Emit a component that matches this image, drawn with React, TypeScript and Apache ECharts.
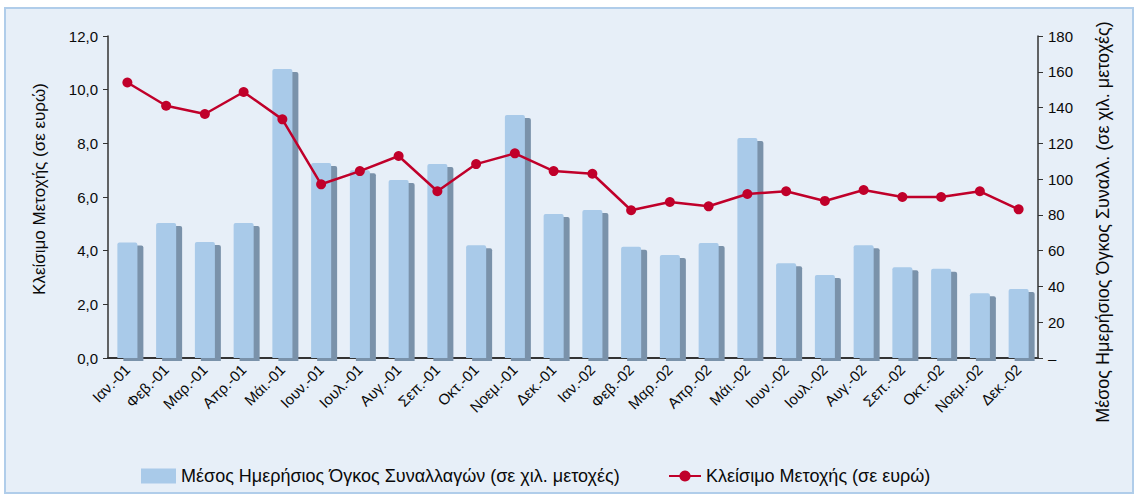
import React, { useEffect, useRef } from "react";
import * as echarts from "echarts";

const categories = [
  "Ιαν.-01", "Φεβ.-01", "Μαρ.-01", "Απρ.-01", "Μάι.-01", "Ιουν.-01",
  "Ιουλ.-01", "Αυγ.-01", "Σεπ.-01", "Οκτ.-01", "Νοεμ.-01", "Δεκ.-01",
  "Ιαν.-02", "Φεβ.-02", "Μαρ.-02", "Απρ.-02", "Μάι.-02", "Ιουν.-02",
  "Ιουλ.-02", "Αυγ.-02", "Σεπ.-02", "Οκτ.-02", "Νοεμ.-02", "Δεκ.-02",
];

const volumeValues = [
  4.3, 5.03, 4.32, 5.03, 10.77, 7.27, 7.0, 6.63, 7.23, 4.2, 9.06, 5.37,
  5.52, 4.15, 3.84, 4.29, 8.2, 3.53, 3.09, 4.2, 3.38, 3.33, 2.41, 2.57,
];

const priceValues = [
  154, 141, 136.4, 148.7, 133.4, 97.1, 104.5, 112.9, 93.2, 108.4, 114.4, 104.5,
  103, 82.6, 87.2, 84.8, 91.7, 93.2, 87.8, 93.9, 90, 90, 93.2, 83.1,
];

const leftTicks = { min: 0, max: 12, interval: 2 };
const rightTicks = { min: 0, max: 180, interval: 20 };

const barName = "Μέσος Ημερήσιος Όγκος Συναλλαγών (σε χιλ. μετοχές)";
const lineName = "Κλείσιμο Μετοχής (σε ευρώ)";
const leftTitle = "Κλείσιμο Μετοχής (σε ευρώ)";
const rightTitle = "Μέσος Ημερήσιος Όγκος Συναλλ. (σε χιλ. μετοχές)";

const FONT = "Liberation Sans";
const TXT = "#0a0a0a";

export default function App() {
  const ref = useRef<HTMLDivElement>(null);
  useEffect(() => {
    if (!ref.current) return;
    const chart = echarts.init(ref.current, undefined, { renderer: "svg" });
    chart.setOption({
      animation: false,
      backgroundColor: "#ffffff",
      textStyle: { fontFamily: FONT },
      graphic: [
        {
          type: "rect",
          z: -10,
          shape: { x: 5, y: 8, width: 1128, height: 485 },
          style: { fill: "#e7eff8", stroke: "#b0cdea", lineWidth: 2 },
        },
        {
          type: "text",
          x: 39,
          y: 189,
          rotation: Math.PI / 2,
          style: {
            text: leftTitle,
            fontFamily: FONT,
            fontSize: 17,
            fill: TXT,
            align: "center",
            verticalAlign: "middle",
          },
        },
        {
          type: "text",
          x: 1103,
          y: 222,
          rotation: Math.PI / 2,
          style: {
            text: rightTitle,
            fontFamily: FONT,
            fontSize: 18,
            fill: TXT,
            align: "center",
            verticalAlign: "middle",
          },
        },
      ],
      legend: [
        {
          data: [barName],
          left: 136,
          top: 462,
          itemWidth: 35,
          itemHeight: 15,
          itemGap: 6,
          icon: "rect",
          textStyle: { fontFamily: FONT, fontSize: 18, color: TXT },
        },
        {
          data: [lineName],
          left: 663,
          top: 462,
          itemWidth: 32,
          itemHeight: 14,
          textStyle: { fontFamily: FONT, fontSize: 18, color: TXT },
        },
      ],
      grid: { left: 108, right: 102, top: 36, bottom: 138, containLabel: false },
      xAxis: {
        type: "category",
        data: categories,
        axisLine: { lineStyle: { color: "#333", width: 2 } },
        axisTick: { show: false },
        axisLabel: {
          rotate: 45,
          interval: 0,
          fontFamily: FONT,
          fontSize: 15,
          color: TXT,
          margin: 9,
        },
      },
      yAxis: [
        {
          type: "value",
          position: "left",
          ...leftTicks,
          splitLine: { show: false },
          axisLine: { show: true, lineStyle: { color: "#333", width: 1.5 } },
          axisTick: { show: true, length: 5, lineStyle: { color: "#333" } },
          axisLabel: {
            fontFamily: FONT,
            fontSize: 15,
            color: TXT,
            margin: 10,
            formatter: (v: number) => v.toFixed(1).replace(".", ","),
          },
        },
        {
          type: "value",
          position: "right",
          ...rightTicks,
          splitLine: { show: false },
          axisLine: { show: true, lineStyle: { color: "#333", width: 1.5 } },
          axisTick: { show: true, length: 5, lineStyle: { color: "#333" } },
          axisLabel: {
            fontFamily: FONT,
            fontSize: 15,
            color: TXT,
            margin: 10,
            formatter: (v: number) => (v === 0 ? "–" : String(v)),
          },
        },
      ],
      series: [
        {
          name: barName,
          type: "bar",
          yAxisIndex: 0,
          data: volumeValues,
          barWidth: 20,
          itemStyle: {
            color: "#a9cae9",
            borderRadius: [2, 2, 0, 0],
            shadowColor: "#7a92aa",
            shadowOffsetX: 6,
            shadowOffsetY: 3,
            shadowBlur: 0,
          },
        },
        {
          name: lineName,
          type: "line",
          yAxisIndex: 1,
          data: priceValues,
          symbol: "circle",
          symbolSize: 10,
          z: 5,
          lineStyle: { color: "#c0002a", width: 2.5 },
          itemStyle: { color: "#c0002a" },
        },
      ],
    });
    return () => chart.dispose();
  }, []);
  return (
    <div
      ref={ref}
      style={{ position: "absolute", left: 0, top: 0, width: 1140, height: 496 }}
    />
  );
}
